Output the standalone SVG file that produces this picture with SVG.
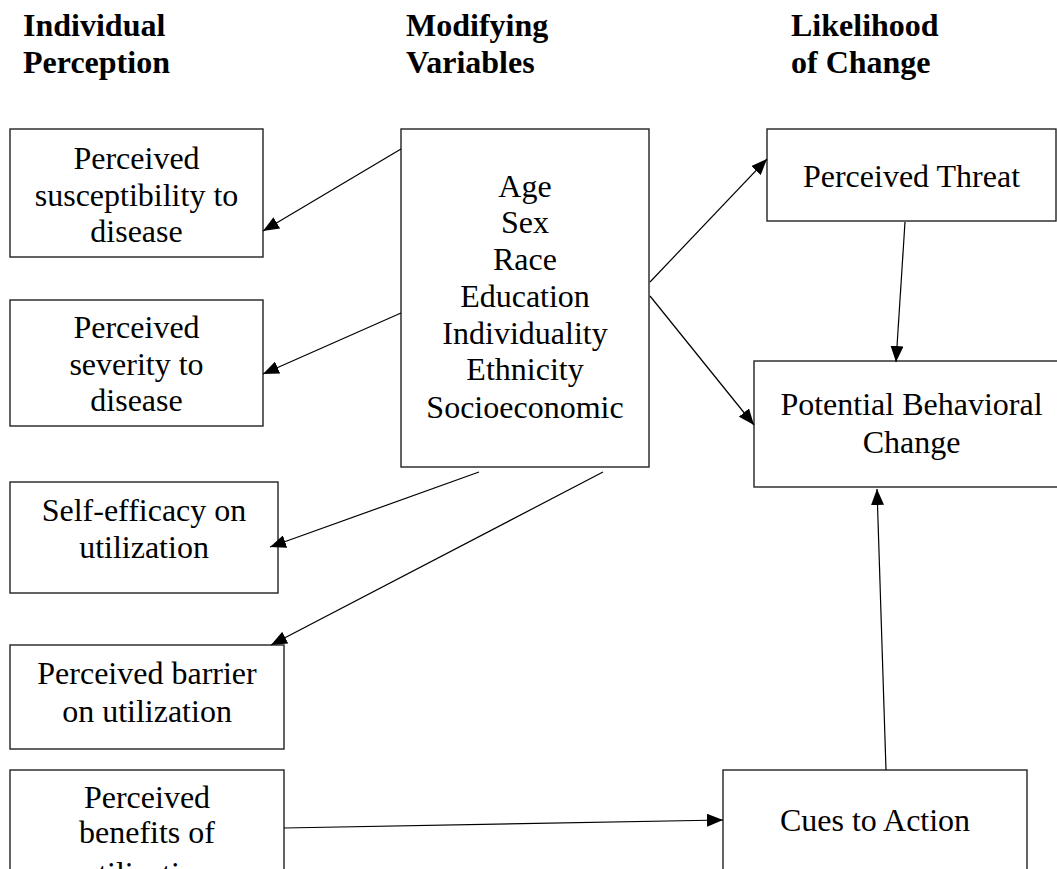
<svg xmlns="http://www.w3.org/2000/svg" width="1057" height="869" viewBox="0 0 1057 869">
<style>
.hd{font-family:'Liberation Serif','DejaVu Serif',serif;font-size:32px;font-weight:bold;fill:#000}
.tx{font-family:'Liberation Serif','DejaVu Serif',serif;font-size:32px;fill:#000;text-anchor:middle}
.box{fill:#fff;stroke:#222;stroke-width:1.4}
.cn{stroke:#000;stroke-width:1.2;fill:none;marker-end:url(#ah)}
</style>
<defs>
<marker id="ah" markerUnits="userSpaceOnUse" markerWidth="17" markerHeight="13" refX="16" refY="6.5" orient="auto">
<path d="M0,0 L16,6.5 L0,13 z" fill="#000"/>
</marker>
</defs>
<rect width="1057" height="869" fill="#fff"/>
<g id="headers" font-family="Liberation Serif">
<text class="hd" x="23" y="36">Individual</text>
<text class="hd" x="23" y="73">Perception</text>
<text class="hd" x="406" y="36">Modifying</text>
<text class="hd" x="406" y="73">Variables</text>
<text class="hd" x="791" y="36">Likelihood</text>
<text class="hd" x="791" y="73">of Change</text>
</g>
<g id="susceptibility">
<rect class="box" x="10" y="129" width="253" height="128"/>
<text class="tx" x="136.5" y="169">Perceived</text>
<text class="tx" x="136.5" y="206">susceptibility to</text>
<text class="tx" x="136.5" y="242">disease</text>
</g>
<g id="severity">
<rect class="box" x="10" y="300" width="253" height="126"/>
<text class="tx" x="136.5" y="338">Perceived</text>
<text class="tx" x="136.5" y="375">severity to</text>
<text class="tx" x="136.5" y="411">disease</text>
</g>
<g id="selfefficacy">
<rect class="box" x="10" y="482" width="268" height="111"/>
<text class="tx" x="144" y="521">Self-efficacy on</text>
<text class="tx" x="144" y="558">utilization</text>
</g>
<g id="barrier">
<rect class="box" x="10" y="645" width="274" height="104"/>
<text class="tx" x="147" y="684">Perceived barrier</text>
<text class="tx" x="147" y="722">on utilization</text>
</g>
<g id="benefits">
<rect class="box" x="10" y="770" width="274" height="130"/>
<text class="tx" x="147" y="808">Perceived</text>
<text class="tx" x="147" y="843">benefits of</text>
<text class="tx" x="147" y="884">utilization</text>
</g>
<g id="modifying">
<rect class="box" x="401" y="129" width="248" height="338"/>
<text class="tx" x="525" y="197">Age</text>
<text class="tx" x="525" y="233">Sex</text>
<text class="tx" x="525" y="270">Race</text>
<text class="tx" x="525" y="307">Education</text>
<text class="tx" x="525" y="344">Individuality</text>
<text class="tx" x="525" y="380">Ethnicity</text>
<text class="tx" x="525" y="418">Socioeconomic</text>
</g>
<g id="threat">
<rect class="box" x="767" y="129" width="289" height="92"/>
<text class="tx" x="911.5" y="187">Perceived Threat</text>
</g>
<g id="behavioral">
<rect class="box" x="754" y="361" width="314" height="126"/>
<text class="tx" x="911.5" y="415">Potential Behavioral</text>
<text class="tx" x="911.5" y="453">Change</text>
</g>
<g id="cues">
<rect class="box" x="723" y="770" width="304" height="130"/>
<text class="tx" x="875" y="831">Cues to Action</text>
</g>
<g id="connectors">
<line class="cn" x1="401" y1="149" x2="263" y2="231"/>
<line class="cn" x1="401" y1="313" x2="263" y2="374"/>
<line class="cn" x1="479" y1="472" x2="270" y2="547"/>
<line class="cn" x1="603" y1="472" x2="271" y2="645"/>
<line class="cn" x1="650" y1="282" x2="767" y2="159"/>
<line class="cn" x1="650" y1="296" x2="754" y2="425"/>
<line class="cn" x1="905" y1="222" x2="896" y2="362"/>
<line class="cn" x1="886" y1="770" x2="877" y2="489"/>
<line class="cn" x1="284" y1="828" x2="723" y2="820"/>
</g>
</svg>
